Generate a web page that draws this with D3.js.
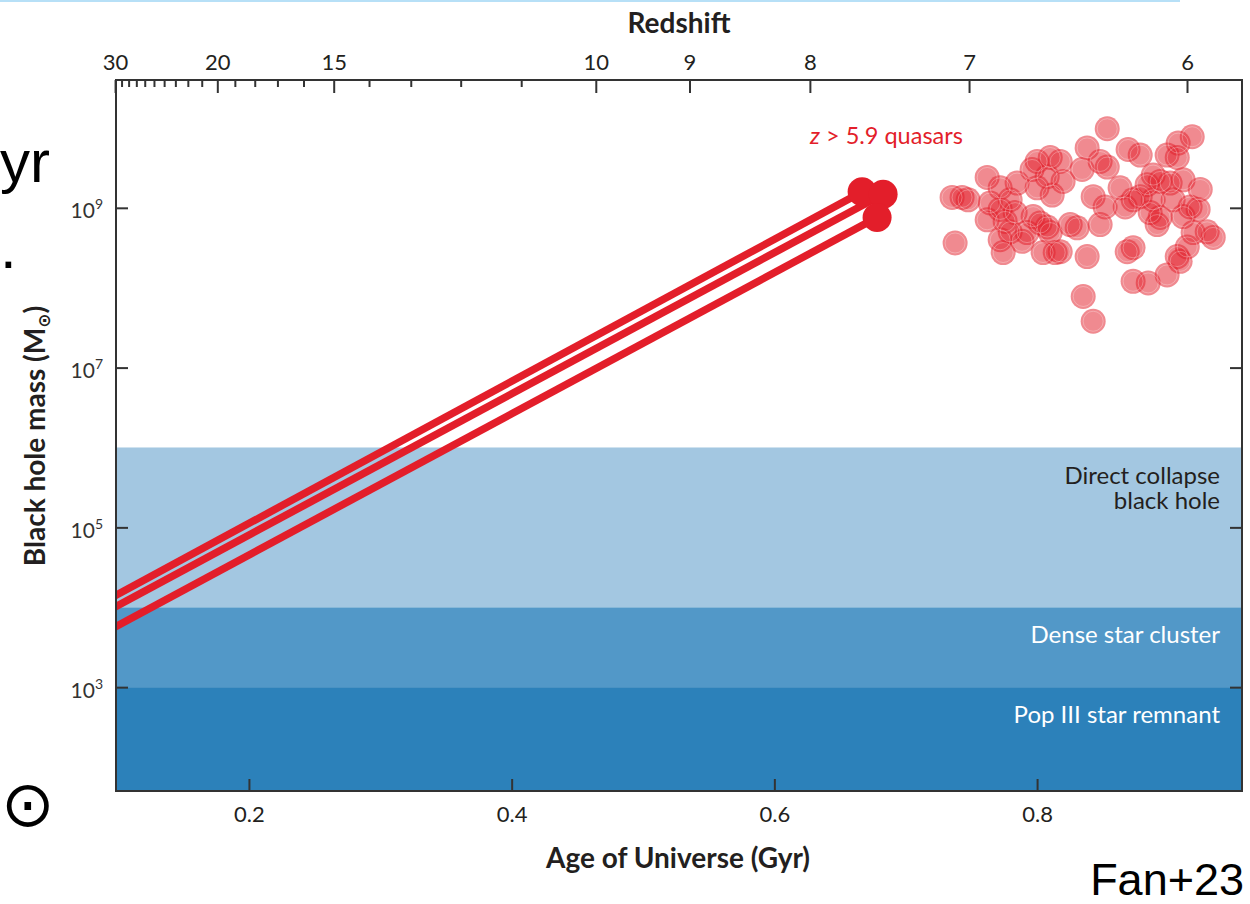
<!DOCTYPE html>
<html>
<head>
<meta charset="utf-8">
<script src="https://cdn.jsdelivr.net/npm/d3@7"></script>
<style>
  html, body { margin: 0; padding: 0; background: #fff; }
  svg { display: block; }
</style>
</head>
<body>
<script>
// ---------- data ----------
const ageTicks = [0.2, 0.4, 0.6, 0.8];                 // Gyr
const massTickExponents = [3, 5, 7, 9];                  // log10(M/Msun)
const redshiftMajor = [30, 20, 15, 10, 9, 8, 7, 6];
const redshiftMinor = [29, 28, 27, 26, 25, 24, 23, 22, 21, 19, 18, 17, 16, 14, 13, 12, 11];

const bandNames = ["Pop III star remnant", "Dense star cluster", "Direct collapse black hole"];
const bandLowerLog = [1.7, 3, 4];
const bandUpperLog = [3, 4, 6];

// Eddington-limited growth tracks
const trackStartAge = [0.0988, 0.0988, 0.0988];
const trackStartLogM = [4.15, 4.01, 3.76];
const trackEndAge = [0.6668, 0.6828, 0.6782];
const trackEndLogM = [9.20, 9.17, 8.88];

// z > 5.9 quasars
const quasarAge = [0.8534,0.9181,0.9074,0.8381,0.8693,0.8785,0.8990,0.9067,0.8100,0.8000,
  0.8176,0.8480,0.8534,0.8343,0.7962,0.7620,0.8077,0.8198,0.7848,0.7719,
  0.8884,0.8937,0.9013,0.8838,0.9112,0.9242,0.8632,0.8427,0.8115,0.8000,
  0.7353,0.7429,0.7475,0.7643,0.7795,0.8785,0.8731,0.8884,0.9036,0.9165,
  0.9226,0.8518,0.8671,0.7719,0.7833,0.7970,0.8861,0.8937,0.9112,0.7620,
  0.7757,0.8077,0.8023,0.8252,0.8305,0.8480,0.8914,0.7795,0.7924,0.8100,
  0.9295,0.9341,0.9188,0.7376,0.7719,0.7886,0.8731,0.8686,0.9143,0.7742,
  0.8046,0.8138,0.8176,0.8381,0.9067,0.9089,0.8990,0.8731,0.8846,0.8351,0.8427];
const quasarLogM = [9.99,9.89,9.81,9.75,9.73,9.66,9.66,9.63,9.63,9.58,
  9.58,9.58,9.51,9.48,9.48,9.38,9.39,9.33,9.31,9.25,
  9.41,9.33,9.31,9.29,9.35,9.23,9.25,9.14,9.16,9.25,
  9.13,9.13,9.10,9.06,9.10,9.14,9.10,9.10,9.10,9.01,
  8.98,9.01,9.01,8.98,8.94,8.89,8.94,8.88,8.89,8.85,
  8.83,8.76,8.81,8.79,8.75,8.79,8.79,8.70,8.69,8.69,
  8.70,8.63,8.69,8.56,8.60,8.58,8.50,8.45,8.51,8.44,
  8.44,8.44,8.45,8.39,8.39,8.33,8.16,8.08,8.06,7.89,7.58];

// ---------- layout ----------
const W = 1250, H = 904;
const L = 116, R = 1242, T = 80, B = 791;
const red = "#e31e2a";
const bandColors = ["#2c81ba", "#5298c8", "#a3c7e1"];
const bandTextColors = ["#ffffff", "#ffffff", "#231f20"];
const ink = "#231f20";
const font = "Lato, 'Open Sans', sans-serif";

// age of the universe (Gyr) at redshift z, matter-dominated approximation
const ageOfZ = z => 16.93 * Math.pow(1 + z, -1.5);

const svg = d3.select("body").append("svg").attr("width", W).attr("height", H);

const x = d3.scaleLinear().domain([0.0988, 0.956]).range([L, R]);
const y = d3.scaleLog().domain([Math.pow(10, 1.7), Math.pow(10, 10.6)]).range([B, T]);

// slide remnants
svg.append("rect").attr("x", 0).attr("y", 0).attr("width", 1180).attr("height", 2).attr("fill", "#b7e0f7");
svg.append("text").attr("x", 0).attr("y", 182).attr("font-family", "'Liberation Sans', Arial, sans-serif")
  .attr("font-size", 60).attr("fill", "#000").text("yr");
svg.append("text").attr("x", 0).attr("y", 268).attr("font-family", "'Liberation Sans', Arial, sans-serif")
  .attr("font-size", 60).attr("fill", "#000").text(".");
svg.append("text").attr("x", 1).attr("y", 826).attr("text-anchor", "start").attr("font-family", "'DejaVu Sans', sans-serif")
  .attr("font-size", 64).attr("fill", "#000").text("\u2299");
svg.append("text").attr("x", 1244).attr("y", 895).attr("text-anchor", "end").attr("font-family", "'Liberation Sans', Arial, sans-serif")
  .attr("font-size", 45).attr("fill", "#000").text("Fan+23");

// clip
svg.append("defs").append("clipPath").attr("id", "plotclip")
  .append("rect").attr("x", L).attr("y", T).attr("width", R - L).attr("height", B - T);
const plot = svg.append("g").attr("clip-path", "url(#plotclip)");

// bands
const bands = bandNames.map((n, i) => ({ name: n, lo: Math.pow(10, bandLowerLog[i]), hi: Math.pow(10, bandUpperLog[i]), i }));
plot.selectAll("rect.band").data(bands).join("rect").attr("class", "band")
  .attr("x", L).attr("width", R - L)
  .attr("y", d => y(d.hi)).attr("height", d => y(d.lo) - y(d.hi))
  .attr("fill", d => bandColors[d.i]);

// growth tracks
const tracks = trackStartAge.map((a, i) => ({
  x0: trackStartAge[i], m0: Math.pow(10, trackStartLogM[i]),
  x1: trackEndAge[i], m1: Math.pow(10, trackEndLogM[i])
}));
const slope = d => (y(d.m1) - y(d.m0)) / (x(d.x1) - x(d.x0));
plot.selectAll("line.track").data(tracks).join("line").attr("class", "track")
  .attr("x1", d => x(d.x0) - 10).attr("y1", d => y(d.m0) - 10 * slope(d))
  .attr("x2", d => x(d.x1)).attr("y2", d => y(d.m1))
  .attr("stroke", red).attr("stroke-width", 7.5);
plot.selectAll("circle.end").data(tracks).join("circle").attr("class", "end")
  .attr("cx", d => x(d.x1)).attr("cy", d => y(d.m1)).attr("r", 14.5).attr("fill", red);

// quasars
const quasars = quasarAge.map((a, i) => ({ a, m: Math.pow(10, quasarLogM[i]) }));
plot.selectAll("circle.q").data(quasars).join("circle").attr("class", "q")
  .attr("cx", d => x(d.a)).attr("cy", d => y(d.m)).attr("r", 12.5)
  .attr("fill", red).attr("fill-opacity", 0.52);
plot.selectAll("circle.qring").data(quasars).join("circle").attr("class", "qring")
  .attr("cx", d => x(d.a)).attr("cy", d => y(d.m)).attr("r", 10)
  .attr("fill", "none").attr("stroke", "#fff").attr("stroke-opacity", 0.28).attr("stroke-width", 1);

// band labels
const bandLabelG = svg.append("g").attr("font-family", font).attr("font-size", 24).attr("text-anchor", "end");
const dc = bandLabelG.append("text").attr("x", 1220).attr("y", 484).attr("fill", bandTextColors[2]);
dc.append("tspan").attr("x", 1220).text("Direct collapse");
dc.append("tspan").attr("x", 1220).attr("dy", 25).text("black hole");
bandLabelG.append("text").attr("x", 1220).attr("y", 643).attr("fill", bandTextColors[1]).text(bandNames[1]);
bandLabelG.append("text").attr("x", 1220).attr("y", 723).attr("fill", bandTextColors[0]).text(bandNames[0]);

// quasar label
const ql = svg.append("text").attr("x", 810).attr("y", 144).attr("font-family", font).attr("font-size", 23.5).attr("fill", red);
ql.append("tspan").attr("font-style", "italic").text("z");
ql.append("tspan").text(" > 5.9 quasars");

// axes
function styleAxis(g) {
  g.select(".domain").remove();
  g.selectAll(".tick line").attr("stroke", "#333").attr("stroke-width", 2);
  g.selectAll(".tick text").attr("fill", ink).attr("font-family", font);
}

// bottom
const gB = svg.append("g").attr("transform", `translate(0,${B})`)
  .call(d3.axisBottom(x).tickValues(ageTicks).tickSizeInner(-12).tickSizeOuter(0).tickPadding(21).tickFormat(d3.format(".1f")));
styleAxis(gB);
gB.selectAll(".tick text").attr("font-size", 22).attr("dy", "0.45em");

// top (redshift)
const gT = svg.append("g").attr("transform", `translate(0,${T})`)
  .call(d3.axisTop(x).tickValues(redshiftMajor.map(ageOfZ)).tickSizeInner(-13).tickSizeOuter(0).tickPadding(10)
    .tickFormat((d, i) => redshiftMajor[i]));
styleAxis(gT);
gT.selectAll(".tick text").attr("font-size", 22);
const gTm = svg.append("g").attr("transform", `translate(0,${T})`)
  .call(d3.axisTop(x).tickValues(redshiftMinor.map(ageOfZ)).tickSizeInner(-7).tickSizeOuter(0).tickFormat(""));
styleAxis(gTm);

// left
const gL = svg.append("g").attr("transform", `translate(${L},0)`)
  .call(d3.axisLeft(y).tickValues(massTickExponents.map(e => Math.pow(10, e))).tickSizeInner(-12).tickSizeOuter(0).tickPadding(13)
    .tickFormat(""));
styleAxis(gL);
gL.selectAll(".tick").each(function (d, i) {
  const t = d3.select(this).append("text").attr("x", -13).attr("y", 10).attr("text-anchor", "end")
    .attr("font-family", font).attr("fill", "#333").attr("font-size", 21);
  t.append("tspan").text("10");
  t.append("tspan").attr("font-size", 14).attr("dy", -9).text(massTickExponents[i]);
});

// right
const gR = svg.append("g").attr("transform", `translate(${R},0)`)
  .call(d3.axisRight(y).tickValues(massTickExponents.map(e => Math.pow(10, e))).tickSizeInner(-12).tickSizeOuter(0).tickFormat(""));
styleAxis(gR);

// frame
svg.append("rect").attr("x", L).attr("y", T).attr("width", R - L).attr("height", B - T)
  .attr("fill", "none").attr("stroke", "#333").attr("stroke-width", 2);

// axis titles
svg.append("text").attr("x", 679).attr("y", 33).attr("text-anchor", "middle").attr("font-family", font)
  .attr("font-weight", "bold").attr("font-size", 28).attr("fill", ink).text("Redshift");
svg.append("text").attr("x", 678).attr("y", 868).attr("text-anchor", "middle").attr("font-family", font)
  .attr("font-weight", "bold").attr("font-size", 28).attr("fill", ink).text("Age of Universe (Gyr)");
const yl = svg.append("text").attr("transform", "translate(45,436) rotate(-90)").attr("text-anchor", "middle")
  .attr("font-family", font).attr("font-weight", "bold").attr("font-size", 28).attr("fill", ink);
yl.append("tspan").text("Black hole mass (M");
yl.append("tspan").attr("font-size", 17).attr("dy", 5).attr("font-family", "'DejaVu Sans', sans-serif").text("\u2299");
yl.append("tspan").attr("dy", -5).text(")");
</script>
</body>
</html>
